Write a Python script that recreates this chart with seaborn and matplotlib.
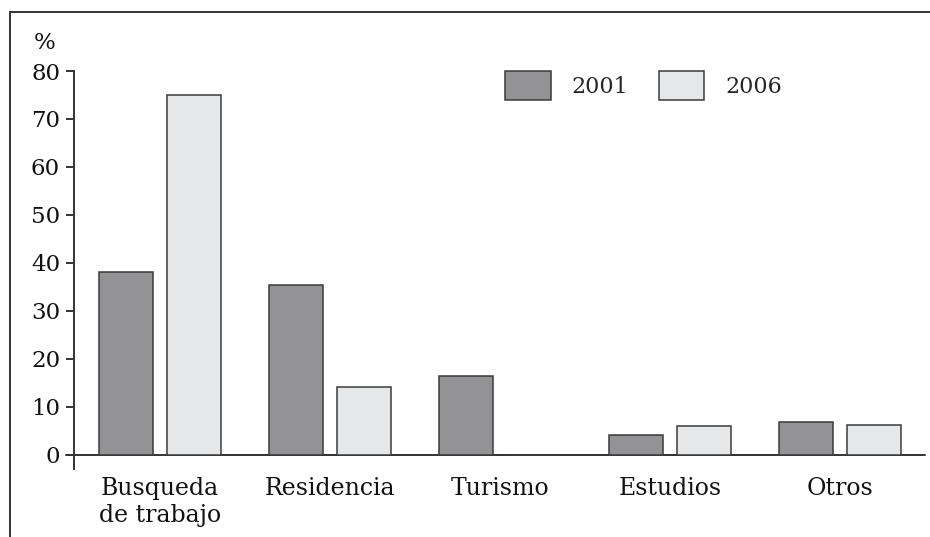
import matplotlib
matplotlib.use("Agg")
import matplotlib.pyplot as plt
from matplotlib.lines import Line2D
import seaborn as sns
import pandas as pd

categories = ["Busqueda\nde trabajo", "Residencia", "Turismo", "Estudios", "Otros"]
years = ["2001", "2006"]
values_2001 = [38.0, 35.4, 16.3, 4.0, 6.7]
values_2006 = [75.0, 14.0, 0.0, 5.9, 6.1]
yticks = [0, 10, 20, 30, 40, 50, 60, 70, 80]

df = pd.DataFrame({
    "cat": categories * 2,
    "year": [years[0]] * len(categories) + [years[1]] * len(categories),
    "val": values_2001 + values_2006,
})

sns.set_theme(style="white")
plt.rcParams["font.family"] = ["DejaVu Serif"]

fig = plt.figure(figsize=(9.30, 5.37), dpi=100)
ax = fig.add_axes([74/930, 1-469/537, (925-74)/930, (469-71)/537])

palette = {"2001": "#939396", "2006": "#e6e7e8"}
sns.barplot(data=df, x="cat", y="val", hue="year", palette=palette,
            width=0.8, gap=0.2, edgecolor="#3a3a3a", linewidth=1.1,
            saturation=1, ax=ax)

ax.set_xlim(-0.506, 4.5)
ax.set_ylim(-3, 80)
ax.set_yticks(yticks)
ax.set_yticklabels([str(v) for v in yticks])
ax.set_xlabel("")
ax.set_ylabel("")

for s in ["top", "right", "bottom"]:
    ax.spines[s].set_visible(False)
ax.spines["left"].set_color("#333333")
ax.spines["left"].set_linewidth(1.4)
ax.spines["left"].set_bounds(-3, 80)
ax.axhline(0, xmin=-8/851, xmax=1, color="#333333", lw=1.4, clip_on=False, zorder=0.5)

ax.tick_params(axis="y", direction="out", length=6, width=1.4, color="#333333",
               labelsize=16.5, pad=4, left=True, labelcolor="#111111")
ax.tick_params(axis="x", length=0, labelsize=17, pad=6, labelcolor="#111111")
for lab in ax.get_xticklabels():
    lab.set_linespacing(1.2)

handles, labels = ax.get_legend_handles_labels()
ax.legend(handles, labels, loc="upper left", bbox_to_anchor=(505/930, 1-71/537),
          bbox_transform=fig.transFigure, ncol=2, frameon=False, fontsize=16,
          handlelength=2.05, handleheight=1.6, handletextpad=0.95,
          columnspacing=1.36, borderpad=0, borderaxespad=0)

fig.text(45/930, 1-43/537, "%", fontsize=16.5, ha="center", va="center", color="#111111")

fig.add_artist(Line2D([10/930, 1.0], [1-12/537, 1-12/537], transform=fig.transFigure,
                      color="#333333", lw=1.4))
fig.add_artist(Line2D([10/930, 10/930], [1-12/537, 0], transform=fig.transFigure,
                      color="#333333", lw=1.4))

fig.savefig("out.png", dpi=100)
